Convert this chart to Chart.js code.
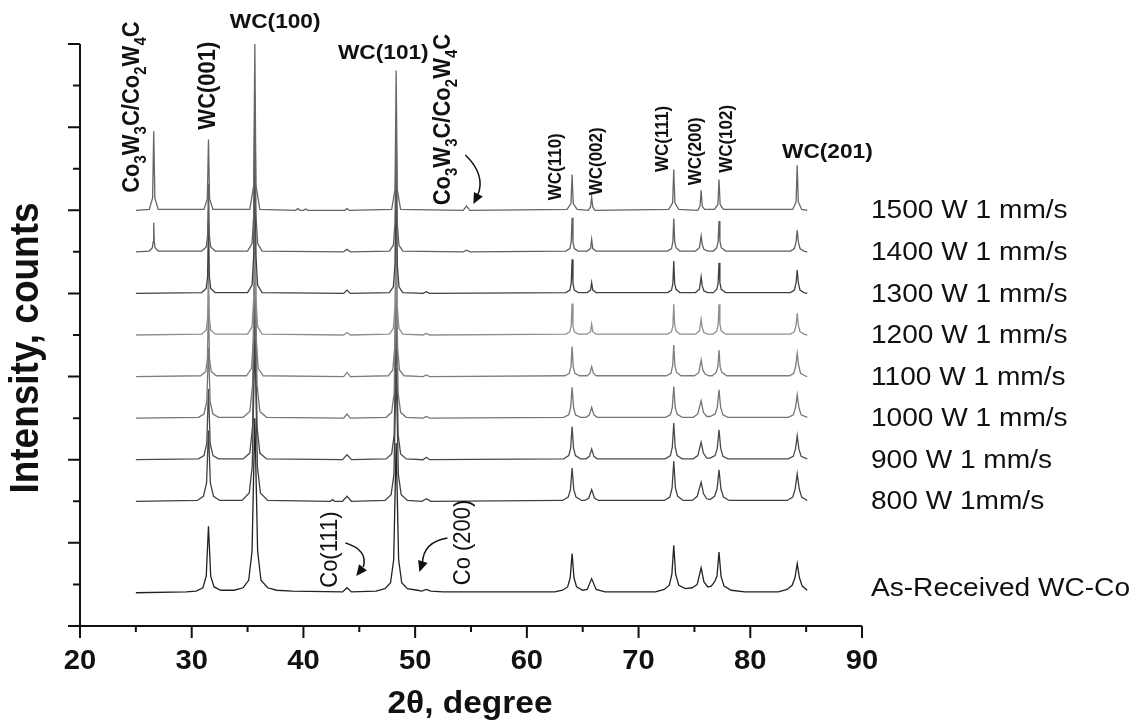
<!DOCTYPE html>
<html>
<head>
<meta charset="utf-8">
<script src="https://cdn.jsdelivr.net/npm/chart.js@4.4.1/dist/chart.umd.min.js"></script>
<style>
body { margin: 0; background: #fff; }
#wrap { width: 1147px; height: 725px; position: relative; }
</style>
</head>
<body>
<div id="wrap"><canvas id="chart"></canvas></div>
<script>
// XRD patterns, [2theta, intensity above the pattern's own baseline]
var s1500 = [[25,0],[26.2,0.01],[26.5,0.15],[26.6,0.95],[26.7,0.15],[27.0,0.01],
    [31.1,0.01],[31.4,0.14],[31.5,0.85],[31.6,0.14],[31.9,0.01],
    [35.2,0.01],[35.55,0.3],[35.65,2.0],[35.75,0.3],[36.1,0.01],
    [39.3,0],[39.5,0.02],[39.7,0],[40.0,0],[40.2,0.015],[40.4,0],
    [43.7,0],[43.9,0.02],[44.1,0],
    [47.9,0.01],[48.2,0.25],[48.3,1.68],[48.4,0.25],[48.7,0.01],
    [54.3,0],[54.6,0.05],[54.9,0],
    [63.6,0.01],[63.95,0.08],[64.05,0.43],[64.15,0.08],[64.5,0.01],
    [65.5,0],[65.7,0.04],[65.8,0.16],[65.9,0.04],[66.1,0],
    [72.7,0.01],[73.05,0.09],[73.15,0.49],[73.25,0.09],[73.6,0.01],
    [75.3,0],[75.5,0.05],[75.6,0.24],[75.7,0.05],[75.9,0.01],
    [76.8,0.01],[77.1,0.07],[77.2,0.37],[77.3,0.07],[77.6,0.01],
    [83.8,0.01],[84.1,0.1],[84.2,0.54],[84.3,0.1],[84.6,0.01],[85.1,0]];

var s1400 = [[25,0],[26.2,0.01],[26.48,0.05],[26.55,0.12],[26.6,0.35],[26.65,0.12],[26.72,0.05],[27.0,0.01],
    [30.9,0.01],[31.3,0.06],[31.42,0.2],[31.5,0.82],[31.58,0.2],[31.7,0.06],[32.1,0.01],
    [35.0,0.01],[35.4,0.1],[35.55,0.45],[35.65,1.9],[35.75,0.45],[35.9,0.1],[36.3,0.01],
    [43.6,0],[43.9,0.03],[44.2,0],
    [47.7,0.01],[48.05,0.08],[48.2,0.35],[48.3,1.55],[48.4,0.35],[48.55,0.08],[48.9,0.01],
    [54.3,0],[54.6,0.02],[54.9,0],
    [63.5,0.01],[63.85,0.04],[63.97,0.12],[64.05,0.41],[64.13,0.12],[64.25,0.04],[64.6,0.01],
    [65.4,0.01],[65.7,0.04],[65.8,0.15],[65.9,0.04],[66.2,0.01],
    [72.6,0.01],[72.95,0.04],[73.07,0.12],[73.15,0.4],[73.23,0.13],[73.35,0.05],[73.7,0.01],
    [75.1,0.01],[75.45,0.05],[75.6,0.19],[75.7,0.09],[75.85,0.03],[76.2,0.01],
    [76.7,0.01],[77.0,0.05],[77.12,0.12],[77.2,0.37],[77.28,0.13],[77.4,0.05],[77.8,0.01],
    [83.6,0.01],[83.95,0.04],[84.1,0.12],[84.2,0.26],[84.3,0.12],[84.45,0.04],[84.8,0.01],[85.1,0]];

var s1300 = [[25,0],
    [30.9,0.01],[31.3,0.06],[31.42,0.2],[31.5,0.85],[31.58,0.2],[31.7,0.06],[32.1,0.01],
    [35.0,0.01],[35.4,0.1],[35.55,0.45],[35.65,1.95],[35.75,0.45],[35.9,0.1],[36.3,0.01],
    [43.6,0],[43.9,0.04],[44.2,0],
    [47.7,0.01],[48.05,0.08],[48.2,0.35],[48.3,1.6],[48.4,0.35],[48.55,0.08],[48.9,0.01],
    [50.7,0],[51.0,0.02],[51.3,0],
    [63.5,0.01],[63.85,0.04],[63.97,0.12],[64.05,0.41],[64.13,0.12],[64.25,0.04],[64.6,0.01],
    [65.4,0.01],[65.7,0.04],[65.8,0.13],[65.9,0.04],[66.2,0.01],
    [72.6,0.01],[72.95,0.04],[73.07,0.12],[73.15,0.39],[73.23,0.12],[73.35,0.05],[73.7,0.01],
    [75.1,0.01],[75.45,0.05],[75.6,0.2],[75.7,0.09],[75.85,0.03],[76.2,0.01],
    [76.7,0.01],[77.0,0.05],[77.12,0.12],[77.2,0.37],[77.28,0.13],[77.4,0.05],[77.8,0.01],
    [83.6,0.01],[83.95,0.04],[84.1,0.13],[84.2,0.28],[84.3,0.13],[84.45,0.04],[84.8,0.01],[85.1,0]];

var s1200 = [[25,0],
    [30.9,0.01],[31.3,0.06],[31.42,0.2],[31.5,0.85],[31.58,0.2],[31.7,0.06],[32.1,0.01],
    [35.0,0.01],[35.4,0.1],[35.55,0.45],[35.65,1.95],[35.75,0.45],[35.9,0.1],[36.3,0.01],
    [43.6,0],[43.9,0.03],[44.2,0],
    [47.7,0.01],[48.05,0.08],[48.2,0.35],[48.3,1.6],[48.4,0.35],[48.55,0.08],[48.9,0.01],
    [50.7,0],[51.0,0.02],[51.3,0],
    [63.5,0.01],[63.85,0.04],[63.97,0.11],[64.05,0.38],[64.13,0.11],[64.25,0.04],[64.6,0.01],
    [65.4,0.01],[65.7,0.04],[65.8,0.13],[65.9,0.04],[66.2,0.01],
    [72.6,0.01],[72.95,0.04],[73.07,0.11],[73.15,0.37],[73.23,0.12],[73.35,0.05],[73.7,0.01],
    [75.1,0.01],[75.45,0.05],[75.6,0.19],[75.7,0.09],[75.85,0.03],[76.2,0.01],
    [76.7,0.01],[77.0,0.05],[77.12,0.12],[77.2,0.37],[77.28,0.13],[77.4,0.05],[77.8,0.01],
    [83.6,0.01],[83.95,0.04],[84.1,0.12],[84.2,0.26],[84.3,0.12],[84.45,0.04],[84.8,0.01],[85.1,0]];

var s1100 = [[25,0],
    [30.8,0.01],[31.25,0.06],[31.4,0.2],[31.5,0.85],[31.6,0.2],[31.75,0.06],[32.2,0.01],
    [34.9,0.01],[35.35,0.1],[35.52,0.45],[35.65,1.95],[35.78,0.45],[35.95,0.1],[36.4,0.01],
    [43.6,0],[43.9,0.05],[44.2,0],
    [47.6,0.01],[48.0,0.08],[48.17,0.35],[48.3,1.6],[48.43,0.35],[48.6,0.08],[49.0,0.01],
    [50.7,0],[51.0,0.02],[51.3,0],
    [63.4,0.01],[63.8,0.04],[63.95,0.12],[64.05,0.36],[64.15,0.12],[64.3,0.04],[64.7,0.01],
    [65.4,0.01],[65.65,0.04],[65.8,0.12],[65.95,0.04],[66.2,0.01],
    [72.5,0.01],[72.9,0.04],[73.05,0.13],[73.15,0.38],[73.25,0.13],[73.4,0.05],[73.8,0.01],
    [75.0,0.01],[75.4,0.05],[75.6,0.2],[75.75,0.08],[75.95,0.03],[76.3,0.01],
    [76.6,0.01],[76.95,0.05],[77.1,0.12],[77.2,0.32],[77.3,0.12],[77.45,0.05],[77.9,0.01],
    [83.5,0.01],[83.9,0.04],[84.07,0.13],[84.2,0.28],[84.33,0.13],[84.5,0.04],[84.9,0.01],[85.1,0]];

var s1000 = [[25,0],
    [30.6,0.01],[31.1,0.05],[31.35,0.2],[31.5,0.85],[31.65,0.2],[31.9,0.05],[32.4,0.01],
    [34.6,0.01],[35.2,0.08],[35.45,0.4],[35.65,1.95],[35.85,0.4],[36.1,0.08],[36.7,0.01],
    [43.6,0],[43.9,0.05],[44.2,0],
    [47.4,0.01],[47.9,0.07],[48.12,0.3],[48.3,1.6],[48.48,0.3],[48.7,0.07],[49.2,0.01],
    [50.7,0],[51.0,0.02],[51.3,0],
    [63.3,0.01],[63.75,0.04],[63.92,0.13],[64.05,0.37],[64.18,0.13],[64.35,0.04],[64.8,0.01],
    [65.3,0.01],[65.6,0.04],[65.8,0.13],[66.0,0.04],[66.3,0.01],
    [72.4,0.01],[72.85,0.04],[73.02,0.13],[73.15,0.38],[73.28,0.13],[73.45,0.05],[73.9,0.01],
    [74.9,0.01],[75.3,0.05],[75.6,0.21],[75.8,0.07],[76.1,0.02],
    [76.4,0.02],[76.85,0.05],[77.05,0.13],[77.2,0.34],[77.35,0.13],[77.55,0.04],[78.0,0.01],
    [83.4,0.01],[83.85,0.04],[84.05,0.13],[84.2,0.28],[84.35,0.13],[84.55,0.04],[85.1,0.01]];

var s900 = [[25,0],
    [30.6,0.01],[31.1,0.05],[31.35,0.2],[31.5,0.85],[31.65,0.2],[31.9,0.05],[32.4,0.01],
    [34.6,0.01],[35.2,0.08],[35.45,0.4],[35.65,1.95],[35.85,0.4],[36.1,0.08],[36.7,0.01],
    [43.5,0],[43.9,0.06],[44.3,0],
    [47.4,0.01],[47.9,0.07],[48.12,0.3],[48.3,1.6],[48.48,0.3],[48.7,0.07],[49.2,0.01],
    [50.7,0],[51.0,0.03],[51.3,0],
    [63.3,0.01],[63.75,0.05],[63.92,0.14],[64.05,0.4],[64.18,0.14],[64.35,0.05],[64.8,0.01],
    [65.3,0.01],[65.6,0.04],[65.8,0.13],[66.0,0.04],[66.3,0.01],
    [72.4,0.01],[72.85,0.05],[73.02,0.15],[73.15,0.44],[73.28,0.15],[73.45,0.05],[73.9,0.01],
    [74.9,0.01],[75.3,0.05],[75.6,0.21],[75.8,0.08],[76.1,0.02],
    [76.4,0.02],[76.85,0.05],[77.05,0.14],[77.2,0.36],[77.35,0.14],[77.55,0.04],[78.0,0.01],
    [83.4,0.01],[83.85,0.04],[84.05,0.13],[84.2,0.29],[84.35,0.13],[84.55,0.04],[85.1,0.01]];

var s800 = [[25,0],
    [30.5,0.01],[31.05,0.06],[31.33,0.22],[31.5,0.85],[31.67,0.22],[31.95,0.06],[32.5,0.01],
    [34.5,0.01],[35.15,0.1],[35.42,0.42],[35.65,1.95],[35.88,0.42],[36.15,0.1],[36.8,0.01],
    [42.4,0],[42.6,0.02],[42.8,0],
    [43.5,0],[43.9,0.06],[44.3,0],
    [47.3,0.01],[47.85,0.08],[48.1,0.32],[48.3,1.6],[48.5,0.32],[48.75,0.08],[49.3,0.01],
    [50.6,0],[51.0,0.03],[51.4,0],
    [63.2,0.01],[63.7,0.05],[63.9,0.14],[64.05,0.4],[64.2,0.14],[64.4,0.05],[64.9,0.01],
    [65.2,0.01],[65.55,0.04],[65.8,0.14],[66.05,0.04],[66.4,0.01],
    [72.3,0.01],[72.8,0.05],[73.0,0.16],[73.15,0.48],[73.3,0.16],[73.5,0.06],[74.0,0.01],
    [74.8,0.01],[75.25,0.06],[75.6,0.23],[75.82,0.09],[76.1,0.03],
    [76.4,0.02],[76.8,0.06],[77.03,0.15],[77.2,0.38],[77.37,0.15],[77.6,0.05],[78.1,0.01],
    [83.3,0.01],[83.8,0.05],[84.02,0.15],[84.2,0.33],[84.38,0.15],[84.6,0.05],[85.1,0.01]];

var asReceived = [[25,0],[29.5,0.01],
    [30.4,0.02],[31.0,0.06],[31.3,0.2],[31.5,0.8],[31.7,0.2],[32.0,0.07],[32.6,0.03],[33.8,0.03],
    [34.6,0.06],[35.1,0.15],[35.4,0.5],[35.65,2.1],[35.9,0.5],[36.2,0.15],[36.8,0.06],[37.6,0.03],[39.0,0.02],
    [43.5,0.01],[43.9,0.06],[44.3,0.01],
    [46.5,0.02],[47.3,0.05],[47.8,0.12],[48.08,0.4],[48.3,1.8],[48.52,0.4],[48.8,0.12],[49.3,0.05],[50.2,0.03],
    [50.6,0.02],[51.0,0.04],[51.4,0.02],[52.5,0.01],
    [62.5,0.01],[63.2,0.03],[63.65,0.07],[63.88,0.18],[64.05,0.47],[64.22,0.18],[64.45,0.07],[65.0,0.03],
    [65.4,0.04],[65.8,0.17],[66.2,0.04],[67.0,0.01],
    [71.5,0.01],[72.3,0.04],[72.75,0.09],[72.98,0.22],[73.15,0.57],[73.32,0.22],[73.6,0.09],[74.2,0.05],
    [74.8,0.06],[75.25,0.1],[75.6,0.3],[75.85,0.13],[76.2,0.07],[76.5,0.08],
    [76.8,0.13],[77.02,0.2],[77.2,0.49],[77.38,0.2],[77.65,0.08],[78.3,0.03],[79.5,0.01],
    [82.5,0.01],[83.3,0.04],[83.75,0.09],[84.0,0.18],[84.2,0.35],[84.4,0.18],[84.65,0.08],[85.1,0.03]];

var patterns = [s1500, s1400, s1300, s1200, s1100, s1000, s900, s800, asReceived];
var labels = ['1500 W 1 mm/s', '1400 W 1 mm/s', '1300 W 1 mm/s', '1200 W 1 mm/s', '1100 W 1 mm/s',
    '1000 W 1 mm/s', '900 W 1 mm/s', '800 W 1mm/s', 'As-Received WC-Co'];
var offsets = [5.0, 4.5, 4.0, 3.5, 3.0, 2.5, 2.0, 1.5, 0.4];
var xTicks = [20, 30, 40, 50, 60, 70, 80, 90];
var yTicks = [0, 1, 2, 3, 4, 5, 6, 7];

var lineColors = ['#666666', '#606060', '#404040', '#8e8e8e', '#7e7e7e', '#747474', '#4a4a4a', '#404040', '#222222'];
var FONT = '"Liberation Sans", Arial, sans-serif';
var STRETCH = 1.08; // the printed figure is a little wider than tall

function shifted(pts, off) {
    var out = [];
    for (var i = 0; i < pts.length; i++) {
	out.push({x: pts[i][0], y: pts[i][1] + off});
    }
    return out;
}

// horizontal text with the figure's slight sideways stretch
function hText(ctx, text, x, y, font, align) {
    ctx.save();
    ctx.translate(x, y);
    ctx.scale(STRETCH, 1);
    ctx.font = font;
    ctx.textAlign = align;
    ctx.fillText(text, 0, 0);
    ctx.restore();
}

// vertical text, reading bottom to top; parts are [text, isSubscript]
function vText(ctx, parts, x, y, size, weight) {
    ctx.save();
    ctx.translate(x, y);
    ctx.scale(STRETCH, 1);
    ctx.rotate(-Math.PI / 2);
    ctx.textAlign = 'left';
    ctx.textBaseline = 'middle';
    var pos = 0;
    for (var i = 0; i < parts.length; i++) {
	var sub = parts[i][1];
	ctx.font = weight + ' ' + (sub ? Math.round(size * 0.68) : size) + 'px ' + FONT;
	ctx.fillText(parts[i][0], pos, sub ? size * 0.38 : 0);
	pos += ctx.measureText(parts[i][0]).width;
    }
    ctx.restore();
}

function arrow(ctx, p0, c, p1, tip) {
    ctx.beginPath();
    ctx.moveTo(p0[0], p0[1]);
    ctx.quadraticCurveTo(c[0], c[1], p1[0], p1[1]);
    ctx.lineWidth = 1.5;
    ctx.stroke();
    var a = Math.atan2(tip[1] - p1[1], tip[0] - p1[0]);
    var len = 11, w = 5;
    var bx = tip[0] - len * Math.cos(a), by = tip[1] - len * Math.sin(a);
    ctx.beginPath();
    ctx.moveTo(tip[0], tip[1]);
    ctx.lineTo(bx + w * Math.sin(a), by - w * Math.cos(a));
    ctx.lineTo(bx - w * Math.sin(a), by + w * Math.cos(a));
    ctx.closePath();
    ctx.fill();
}

var decor = {
    id: 'decor',
    afterDraw: function(chart) {
	var ctx = chart.ctx;
	var xs = chart.scales.x, ys = chart.scales.y;
	function px(v) { return xs.getPixelForValue(v); }
	function py(v) { return ys.getPixelForValue(v); }
	function pt(a, b) { return [px(a), py(b)]; }
	ctx.save();
	ctx.strokeStyle = '#111';
	ctx.fillStyle = '#111';

	// axes and ticks
	var x0 = px(20), x1 = px(90), y0 = py(0), y1 = py(7);
	ctx.lineWidth = 2;
	ctx.beginPath();
	ctx.moveTo(x0, y1); ctx.lineTo(x0, y0); ctx.lineTo(x1, y0);
	for (var i = 0; i < yTicks.length; i++) {
	    ctx.moveTo(x0 - 12, py(yTicks[i])); ctx.lineTo(x0, py(yTicks[i]));
	    if (i < yTicks.length - 1) {
		ctx.moveTo(x0 - 7, py(yTicks[i] + 0.5)); ctx.lineTo(x0, py(yTicks[i] + 0.5));
	    }
	}
	for (var i = 0; i < xTicks.length; i++) {
	    ctx.moveTo(px(xTicks[i]), y0); ctx.lineTo(px(xTicks[i]), y0 + 12);
	    if (i < xTicks.length - 1) {
		ctx.moveTo(px(xTicks[i] + 5), y0); ctx.lineTo(px(xTicks[i] + 5), y0 + 6);
	    }
	}
	ctx.stroke();

	ctx.textBaseline = 'alphabetic';
	for (var i = 0; i < xTicks.length; i++) {
	    hText(ctx, String(xTicks[i]), px(xTicks[i]), y0 + 43, 'bold 27px ' + FONT, 'center');
	}
	hText(ctx, '2\u03b8, degree', 470, 713, 'bold 31px ' + FONT, 'center');

	ctx.save();
	ctx.translate(38, 348);
	ctx.scale(STRETCH, 1);
	ctx.rotate(-Math.PI / 2);
	ctx.font = 'bold 37px ' + FONT;
	ctx.textAlign = 'center';
	ctx.fillText('Intensity, counts', 0, 0);
	ctx.restore();

	// sample names
	ctx.textBaseline = 'middle';
	for (var i = 0; i < labels.length; i++) {
	    var ly = py(offsets[i]) + (i == labels.length - 1 ? -4 : 1);
	    hText(ctx, labels[i], 871, ly, '26px ' + FONT, 'left');
	}

	// peak labels
	hText(ctx, 'WC(100)', px(37.47), py(7.26), 'bold 21px ' + FONT, 'center');
	hText(ctx, 'WC(101)', px(47.15), py(6.89), 'bold 21px ' + FONT, 'center');
	hText(ctx, 'WC(201)', px(86.9), py(5.70), 'bold 21px ' + FONT, 'center');

	var carbide = [['Co', 0], ['3', 1], ['W', 0], ['3', 1], ['C/Co', 0], ['2', 1], ['W', 0], ['4', 1], ['C', 0]];
	vText(ctx, carbide, px(24.66), py(5.21), 22, 'bold');
	vText(ctx, carbide, px(52.57), py(5.06), 22, 'bold');
	vText(ctx, [['WC(001)', 0]], px(31.5), py(5.97), 22, 'bold');
	vText(ctx, [['WC(110)', 0]], px(62.56), py(5.12), 17, 'bold');
	vText(ctx, [['WC(002)', 0]], px(66.24), py(5.18), 17, 'bold');
	vText(ctx, [['WC(111)', 0]], px(72.15), py(5.46), 17, 'bold');
	vText(ctx, [['WC(200)', 0]], px(75.1), py(5.30), 17, 'bold');
	vText(ctx, [['WC(102)', 0]], px(77.9), py(5.45), 17, 'bold');
	vText(ctx, [['Co(111)', 0]], px(42.4), py(0.46), 22, 'normal');
	vText(ctx, [['Co (200)', 0]], px(54.3), py(0.49), 22, 'normal');

	arrow(ctx, pt(54.5, 5.665), pt(56.38, 5.42), pt(55.57, 5.17), pt(55.21, 5.076));
	arrow(ctx, pt(43.75, 1.0), pt(45.81, 0.914), pt(45.36, 0.71), pt(44.73, 0.60));
	arrow(ctx, pt(52.89, 1.058), pt(50.73, 1.01), pt(50.65, 0.758), pt(50.38, 0.65));
	ctx.restore();
    }
};

var datasets = [];
for (var i = 0; i < patterns.length; i++) {
    datasets.push({
	label: labels[i],
	data: shifted(patterns[i], offsets[i]),
	borderColor: lineColors[i],
	borderWidth: 1.3,
	pointRadius: 0,
	tension: 0,
	clip: false,
    });
}

new Chart(document.getElementById('chart').getContext('2d'), {
    type: 'line',
    data: { datasets: datasets },
    options: {
	responsive: true,
	maintainAspectRatio: false,
	animation: false,
	parsing: false,
	layout: { padding: { left: 80, right: 285, top: 44, bottom: 99 } },
	plugins: { legend: { display: false }, tooltip: { enabled: false } },
	scales: {
	    x: { type: 'linear', min: 20, max: 90, display: false },
	    y: { type: 'linear', min: 0, max: 7, display: false },
	},
    },
    plugins: [decor],
});
</script>
</body>
</html>
